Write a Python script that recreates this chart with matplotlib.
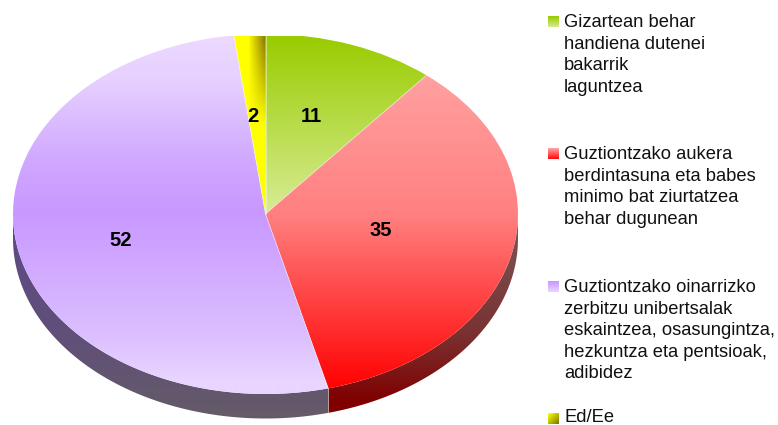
import matplotlib
matplotlib.use('Agg')
import matplotlib.pyplot as plt
from matplotlib.patches import Polygon, Rectangle
import numpy as np

plt.rcParams['font.family'] = ['Liberation Sans', 'DejaVu Sans']

values = [11, 35, 52, 2]
value_labels = ['11', '35', '52', '2']
label_pos = [(311, 116), (381, 230), (121, 241), (253, 116)]
legend_labels = [
    'Gizartean behar\nhandiena dutenei\nbakarrik\nlaguntzea',
    'Guztiontzako aukera\nberdintasuna eta babes\nminimo bat ziurtatzea\nbehar dugunean',
    'Guztiontzako oinarrizko\nzerbitzu unibertsalak\neskaintzea, osasungintza,\nhezkuntza eta pentsioak,\nadibidez',
    'Ed/Ee',
]
legend_y = [21, 153, 286, 416]
swatch_y = [21, 153, 286, 418]

# face gradients, top to bottom (position in px, colour)
face_grad = [
    [(36, '#99cc00'), (214, '#d8ec96')],
    [(76, '#ffa0a0'), (214, '#ff8080'), (390, '#ff0000')],
    [(36, '#ecd9ff'), (80, '#e6d0ff'), (165, '#cfa6ff'), (212, '#c898ff'), (335, '#dcbfff'), (380, '#e9d5ff'), (394, '#e9d5ff')],
    [(36, '#ffff00'), (214, '#ffff00')],
]
side_grad = [
    [(300, '#7a5050'), (400, '#7a5050')],
    [(225, '#7a5555'), (335, '#7a3030'), (400, '#800000'), (425, '#800000')],
    [(230, '#5d4a85'), (330, '#604f7a'), (425, '#655c66')],
    [(300, '#7a7a00'), (400, '#7a7a00')],
]

W, H = 778, 425
cx, cy, rx, ry, depth = 265.5, 214, 252.5, 180, 24.5
top_clip = 36

fig = plt.figure(figsize=(W / 100, H / 100), dpi=100)
ax = fig.add_axes([0, 0, 1, 1])
wedges, _ = ax.pie(values, startangle=90, counterclock=False, radius=1,
                   wedgeprops={'linewidth': 0})
ax.set_aspect('auto')
ax.axis('off')


def to_x(px):
    return (px - cx) / rx


def to_y(py):
    return (cy - py) / ry


def hex_rgb(c):
    return [int(c[i:i + 2], 16) / 255 for i in (1, 3, 5)]


def vgrad(stops):
    ys = np.arange(H)
    pos = [s[0] for s in stops]
    cols = np.array([hex_rgb(s[1]) for s in stops])
    img = np.stack([np.interp(ys, pos, cols[:, k]) for k in range(3)], axis=1)
    return img[:, None, :]


def show(img, clip):
    im = ax.imshow(img, extent=(to_x(0), to_x(W), to_y(H), to_y(0)),
                   aspect='auto', interpolation='bilinear', zorder=2)
    im.set_clip_path(clip)
    return im


# side wall, only the part of the rim facing the viewer
start = 0.0
total = sum(values)
d = depth / ry
for i, v in enumerate(values):
    a0, a1 = start, start + v / total * 360
    start = a1
    a0c, a1c = max(a0, 90), min(a1, 270)
    if a1c <= a0c:
        continue
    t = np.radians(np.linspace(a0c, a1c, 120))
    xs, ys = np.sin(t), np.cos(t)
    pts = np.vstack([np.column_stack([xs, ys]),
                     np.column_stack([xs[::-1], ys[::-1] - d])])
    poly = Polygon(pts, closed=True, transform=ax.transData, visible=False)
    ax.add_patch(poly)
    show(vgrad(side_grad[i]), poly)

xx, yy = np.meshgrid(np.arange(W), np.arange(H))

# top faces
for i, w in enumerate(wedges):
    if i == 3:
        # yellow slice darkens to the right near the rim
        k = np.clip((xx - 248) / 17, 0, 1) * np.clip((125 - yy) / 85, 0, 1)
        img = np.array(hex_rgb('#ffff00')) * (1 - k[..., None]) + np.array(hex_rgb('#8c7800')) * k[..., None]
        show(img, w)
    else:
        show(vgrad(face_grad[i]), w)
    w.set_visible(False)

# slice seams
start = 0.0
for v in values:
    ang = np.radians(start)
    ax.plot([0, np.sin(ang)], [0, np.cos(ang)], color='white', lw=0.5, alpha=0.6, zorder=3)
    if 90 < start < 270:
        ax.plot([np.sin(ang)] * 2, [np.cos(ang), np.cos(ang) - d], color='white', lw=0.5, alpha=0.6, zorder=3)
    start += v / total * 360

# the picture cuts the top of the ellipse flat
ax.add_patch(Rectangle((to_x(0), to_y(top_clip)), to_x(W) - to_x(0), to_y(0) - to_y(top_clip),
                       facecolor='white', edgecolor='none', zorder=4))

for lab, (px, py) in zip(value_labels, label_pos):
    ax.text(to_x(px), to_y(py), lab, fontsize=14.5, fontweight='bold', color='black',
            ha='center', va='center', zorder=5)

# legend
swatch_grad = [('#99cc00', '#d8ec96'), ('#ffa0a0', '#ff0000'), ('#c898ff', '#ecd9ff'), None]
for i, lab in enumerate(legend_labels):
    top = swatch_y[i] - 5
    fig.text(564 / W, 1 - (legend_y[i] - 7) / H, lab, fontsize=13.2, color='#111111',
             ha='left', va='top', linespacing=1.35)
    if swatch_grad[i] is not None:
        c0, c1 = swatch_grad[i]
        sw = vgrad([(top, c0), (top + 11, c1)])
    else:
        k = np.clip((xx - 548 + (yy - top)) / 22, 0, 1)
        sw = np.array(hex_rgb('#ffff00')) * (1 - k[..., None]) + np.array(hex_rgb('#6e6e00')) * k[..., None]
    rect = Rectangle((to_x(548), to_y(top + 11)), to_x(559) - to_x(548), to_y(top) - to_y(top + 11),
                     transform=ax.transData, visible=False)
    ax.add_patch(rect)
    show(sw, rect).set_zorder(5)

ax.set_xlim(to_x(0), to_x(W))
ax.set_ylim(to_y(H), to_y(0))
fig.savefig('out.png', dpi=100)
